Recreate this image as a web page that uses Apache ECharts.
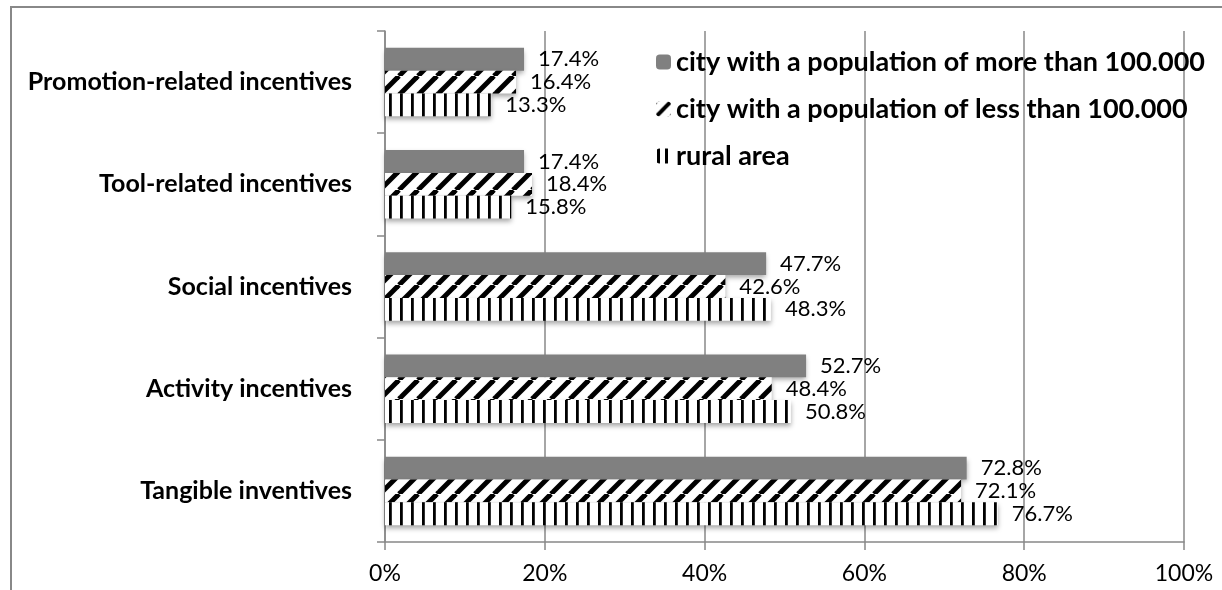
<!DOCTYPE html>
<html>
<head>
<meta charset="utf-8">
<title>Incentives</title>
<script src="https://cdn.jsdelivr.net/npm/echarts@6/dist/echarts.min.js"></script>
<style>
html,body{margin:0;padding:0;background:#fff;}
#main{width:1222px;height:590px;}
</style>
</head>
<body>
<div id="main"></div>
<script>
var categories=['Promotion-related incentives','Tool-related incentives','Social incentives','Activity incentives','Tangible inventives'];
var seriesNames=['city with a population of more than 100.000','city with a population of less than 100.000','rural area'];
var bigCity=[17.4,17.4,47.7,52.7,72.8];
var smallCity=[16.4,18.4,42.6,48.4,72.1];
var rural=[13.3,15.8,48.3,50.8,76.7];
var xTicks=[0,20,40,60,80,100];

// hatched fills drawn on small canvases
function diagPattern(s,w){
	var c=document.createElement('canvas');
	c.width=s;c.height=s;
	var ctx=c.getContext('2d');
	ctx.fillStyle='#fff';
	ctx.fillRect(0,0,s,s);
	ctx.strokeStyle='#000';
	ctx.lineWidth=w;
	for(var k=-1;k<=1;k++){
		ctx.beginPath();
		ctx.moveTo(k*s,s);
		ctx.lineTo(k*s+s,0);
		ctx.stroke();
	}
	return {image:c,repeat:'repeat'};
}
function vertPattern(period,off,w){
	var c=document.createElement('canvas');
	c.width=period;c.height=4;
	var ctx=c.getContext('2d');
	ctx.fillStyle='#fff';
	ctx.fillRect(0,0,period,4);
	ctx.fillStyle='#000';
	ctx.fillRect(off,0,w,4);
	return {image:c,repeat:'repeat'};
}

var fills=['#808080',diagPattern(19,5),vertPattern(11,4,2.8)];
var legendFills=['#808080',diagPattern(15,4),vertPattern(8,1,3)];
var values=[bigCity,smallCity,rural];

function makeSeries(i){
	return {
		name:seriesNames[i],
		type:'bar',
		data:values[i],
		barGap:0,
		barCategoryGap:'33%',
		itemStyle:{
			color:fills[i],
			shadowColor:'rgba(0,0,0,0.35)',
			shadowBlur:5,
			shadowOffsetY:3
		},
		label:{
			show:true,
			position:'right',
			distance:14,
			fontFamily:'Lato',
			fontSize:22,
			color:'#000',
			formatter:function(p){return p.value.toFixed(1)+'%';}
		}
	};
}
function legendData(){
	var d=[];
	for(var i=0;i<seriesNames.length;i++)
		d.push({name:seriesNames[i],itemStyle:{color:legendFills[i],shadowBlur:0}});
	return d;
}

var myChart=echarts.init(document.getElementById('main'),null,{renderer:'canvas'});
var option={
	backgroundColor:'#fff',
	animation:false,
	graphic:[{
		type:'polyline',
		shape:{points:[[11,590],[11,7],[1222,7]]},
		style:{stroke:'#888',lineWidth:2,fill:null},
		silent:true
	}],
	grid:{left:385,right:38,top:31,bottom:48},
	legend:{
		orient:'vertical',
		left:651,
		top:42,
		itemWidth:15,
		itemHeight:15,
		itemGap:17,
		textStyle:{fontFamily:'Lato',fontWeight:'bold',fontSize:27,color:'#000',lineHeight:30},
		data:legendData()
	},
	xAxis:{
		type:'value',
		min:xTicks[0],
		max:xTicks[xTicks.length-1],
		interval:xTicks[1]-xTicks[0],
		axisLine:{show:true,lineStyle:{color:'#888',width:1.5}},
		axisTick:{show:true,length:8,lineStyle:{color:'#888',width:1.5}},
		splitLine:{show:true,lineStyle:{color:'#888',width:1.5}},
		axisLabel:{margin:20,fontFamily:'Lato',fontSize:23,color:'#000',formatter:'{value}%'}
	},
	yAxis:{
		type:'category',
		inverse:true,
		data:categories,
		axisLine:{show:true,lineStyle:{color:'#888',width:1.5}},
		axisTick:{show:true,length:8,inside:false,lineStyle:{color:'#888',width:1.5}},
		axisLabel:{margin:33,fontFamily:'Lato',fontWeight:'bold',fontSize:25,color:'#000'}
	},
	series:[makeSeries(0),makeSeries(1),makeSeries(2)]
};
myChart.setOption(option);
</script>
</body>
</html>
